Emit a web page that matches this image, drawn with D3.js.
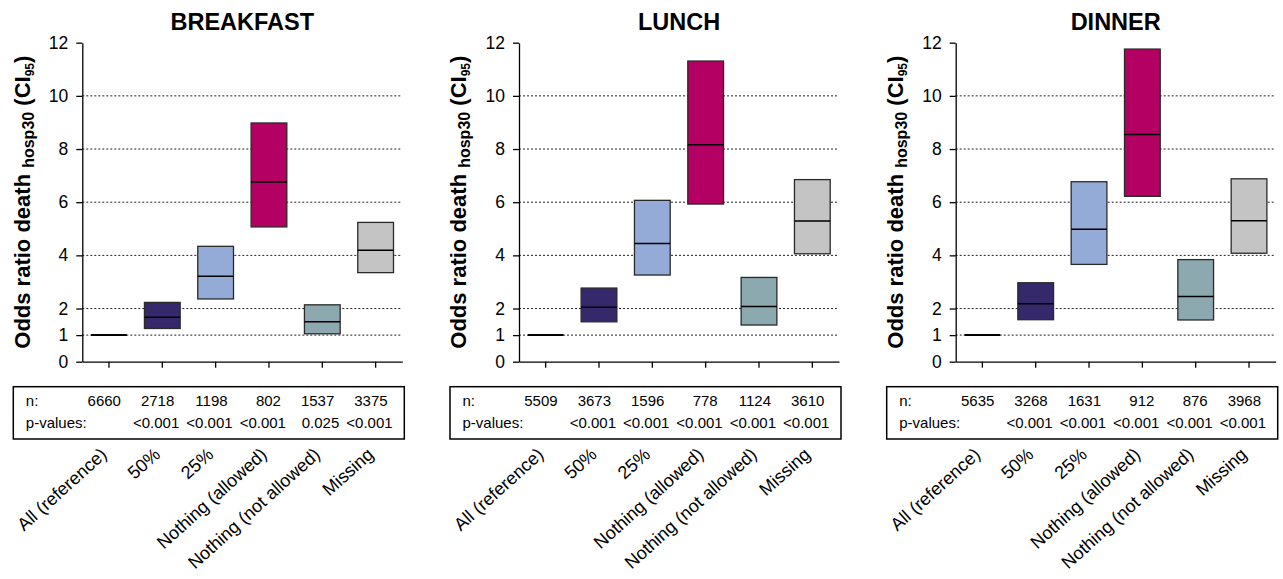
<!DOCTYPE html>
<html>
<head>
<meta charset="utf-8">
<script src="https://cdn.jsdelivr.net/npm/d3@7"></script>
<style>
    body { margin: 0; background: #fff; }
    text { font-family: "Liberation Sans", Arial, sans-serif; fill: #000; }
</style>
</head>
<body>
<div id="chart"></div>
<script>
// Categories and meal panels
const categories = ['All (reference)', '50%', '25%', 'Nothing (allowed)', 'Nothing (not allowed)', 'Missing'];
const meals = ['BREAKFAST', 'LUNCH', 'DINNER'];
const yTicks = [0, 1, 2, 4, 6, 8, 10, 12];
const gridTicks = [1, 2, 4, 6, 8, 10];

// Odds ratios with 95% CI (low / estimate / high)
const breakfastLow  = [1, 1.25, 2.36, 5.07, 1.05, 3.35];
const breakfastOR   = [1, 1.67, 3.21, 6.76, 1.50, 4.19];
const breakfastHigh = [1, 2.23, 4.34, 8.98, 2.14, 5.24];

const lunchLow  = [1, 1.50, 3.26, 5.93, 1.38, 4.06];
const lunchOR   = [1, 2.05, 4.45, 8.16, 2.08, 5.29];
const lunchHigh = [1, 2.77, 6.07, 11.31, 3.17, 6.85];

const dinnerLow  = [1, 1.58, 3.66, 6.22, 1.57, 4.08];
const dinnerOR   = [1, 2.18, 4.98, 8.55, 2.45, 5.30];
const dinnerHigh = [1, 2.97, 6.77, 11.76, 3.84, 6.88];

// Table rows
const breakfastN = ['6660', '2718', '1198', '802', '1537', '3375'];
const breakfastP = ['', '<0.001', '<0.001', '<0.001', '0.025', '<0.001'];
const lunchN = ['5509', '3673', '1596', '778', '1124', '3610'];
const lunchP = ['', '<0.001', '<0.001', '<0.001', '<0.001', '<0.001'];
const dinnerN = ['5635', '3268', '1631', '912', '876', '3968'];
const dinnerP = ['', '<0.001', '<0.001', '<0.001', '<0.001', '<0.001'];

const colors = ['#000000', '#35296b', '#94abd8', '#b30062', '#8ba9ae', '#c4c4c4'];

const panels = [
    { title: meals[0], low: breakfastLow, or: breakfastOR, high: breakfastHigh, n: breakfastN, p: breakfastP },
    { title: meals[1], low: lunchLow, or: lunchOR, high: lunchHigh, n: lunchN, p: lunchP },
    { title: meals[2], low: dinnerLow, or: dinnerOR, high: dinnerHigh, n: dinnerN, p: dinnerP }
];

const W = 1283, H = 579;
const left0 = 82.3, step = 436.7; // y axis position of first panel, distance between panels
const plotTop = 42.7, height = 319, width = 320;

const svg = d3.select('#chart').append('svg')
    .attr('width', W)
    .attr('height', H);

const x = d3.scaleBand()
    .domain(categories)
    .range([0, width])
    .paddingInner(0.33)
    .paddingOuter(0.165);

const y = d3.scaleLinear()
    .domain([0, 12])
    .range([height, 0]);

panels.forEach((p, i) => {
    const g = svg.append('g')
        .attr('transform', `translate(${left0 + i * step},${plotTop})`);

    // dotted grid lines
    g.append('g')
        .selectAll('line')
        .data(gridTicks)
        .enter().append('line')
        .attr('x1', 0)
        .attr('x2', width)
        .attr('y1', d => y(d))
        .attr('y2', d => y(d))
        .attr('stroke', '#222')
        .attr('stroke-width', 1)
        .attr('stroke-dasharray', '2,2');

    const rows = categories.map((c, j) => ({ cat: c, low: p.low[j], or: p.or[j], high: p.high[j], color: colors[j] }));

    // CI boxes
    g.append('g')
        .selectAll('rect')
        .data(rows.filter(d => d.high > d.low))
        .enter().append('rect')
        .attr('x', d => x(d.cat))
        .attr('y', d => y(d.high))
        .attr('width', x.bandwidth())
        .attr('height', d => y(d.low) - y(d.high))
        .attr('fill', d => d.color)
        .attr('stroke', '#2a2a2a')
        .attr('stroke-width', 1.3);

    // odds ratio lines
    g.append('g')
        .selectAll('line')
        .data(rows)
        .enter().append('line')
        .attr('x1', d => x(d.cat))
        .attr('x2', d => x(d.cat) + x.bandwidth())
        .attr('y1', d => y(d.or))
        .attr('y2', d => y(d.or))
        .attr('stroke', '#000')
        .attr('stroke-width', d => d.high > d.low ? 1.5 : 2);

    // Y axis
    g.append('g')
        .call(d3.axisLeft(y).tickValues(yTicks).tickSize(6).tickPadding(8).tickSizeOuter(0))
        .call(a => a.select('.domain').attr('stroke-width', 1.3))
        .call(a => a.selectAll('.tick line').attr('stroke-width', 1.3))
        .selectAll('text')
        .style('font-size', '17.5px')
        .style('font-family', '"Liberation Sans", Arial, sans-serif');

    // X axis (ticks only)
    g.append('g')
        .attr('transform', `translate(0,${height})`)
        .call(d3.axisBottom(x).tickSize(6).tickSizeOuter(0).tickFormat(''))
        .call(a => a.select('.domain').attr('stroke-width', 1.3))
        .call(a => a.selectAll('.tick line').attr('stroke-width', 1.3));

    // Title
    g.append('text')
        .attr('x', width / 2)
        .attr('y', 30 - plotTop)
        .attr('text-anchor', 'middle')
        .style('font-size', '23.5px')
        .style('font-weight', 'bold')
        .text(p.title);

    // Y axis label with subscripts
    const yl = g.append('text')
        .attr('transform', `translate(${29.5 - left0},${height / 2}) rotate(-90)`)
        .attr('text-anchor', 'middle')
        .style('font-weight', 'bold')
        .style('font-size', '22px');
    yl.append('tspan').text('Odds ratio death ');
    yl.append('tspan').attr('dy', 4).style('font-size', '16px').text('hosp30');
    yl.append('tspan').attr('dy', -4).text(' (CI');
    yl.append('tspan').attr('dy', 4).style('font-size', '12px').text('95');
    yl.append('tspan').attr('dy', -4).text(')');

    // Table box with n and p-values
    const tTop = 386.7 - plotTop, tBottom = 439 - plotTop;
    const tLeft = -69, tRight = width + 2;
    g.append('rect')
        .attr('x', tLeft)
        .attr('y', tTop)
        .attr('width', tRight - tLeft)
        .attr('height', tBottom - tTop)
        .attr('fill', 'none')
        .attr('stroke', '#000')
        .attr('stroke-width', 1.5);

    g.append('text')
        .attr('x', tLeft + 12.5)
        .attr('y', 406.5 - plotTop)
        .style('font-size', '15px')
        .text('n:');
    g.append('text')
        .attr('x', tLeft + 12.5)
        .attr('y', 428 - plotTop)
        .style('font-size', '15px')
        .text('p-values:');

    g.append('g')
        .selectAll('text')
        .data(categories)
        .enter().append('text')
        .attr('x', d => x(d) + x.bandwidth() / 2 + 12)
        .attr('y', 406.5 - plotTop)
        .attr('text-anchor', 'end')
        .style('font-size', '15px')
        .text((d, j) => p.n[j]);

    g.append('g')
        .selectAll('text')
        .data(categories)
        .enter().append('text')
        .attr('x', d => x(d) + x.bandwidth() / 2 + 17)
        .attr('y', 428 - plotTop)
        .attr('text-anchor', 'end')
        .style('font-size', '15px')
        .text((d, j) => p.p[j]);

    // Rotated category labels
    g.append('g')
        .selectAll('text')
        .data(categories)
        .enter().append('text')
        .attr('transform', d => `translate(${x(d) + x.bandwidth() / 2 - 1},${456 - plotTop}) rotate(-42)`)
        .attr('text-anchor', 'end')
        .style('font-size', '18px')
        .text(d => d);
});
</script>
</body>
</html>
